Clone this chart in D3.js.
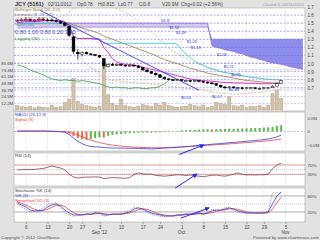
<!DOCTYPE html>
<html>
<head>
<meta charset="utf-8">
<script src="https://cdn.jsdelivr.net/npm/d3@7"></script>
<style>
body { margin: 0; background: #e2e2e2; }
svg { display: block; font-family: "Liberation Sans", Arial, sans-serif; }
</style>
</head>
<body>
<main></main>
<script>
/* daily data, 2 Aug 2012 .. 2 Nov 2012 (62 trading days) */
let opens = [1.52,1.53,1.54,1.55,1.53,1.54,1.55,1.54,1.54,1.53,1.52,1.50,1.46,1.33,1.14,1.11,1.14,1.12,1.11,1.10,
    1.06,0.96,0.99,0.98,0.99,0.98,0.97,0.98,0.97,0.95,0.92,0.90,0.88,0.86,0.83,0.81,0.80,0.79,0.80,0.79,
    0.79,0.78,0.79,0.78,0.77,0.76,0.75,0.73,0.71,0.70,0.71,0.70,0.70,0.69,0.70,0.70,0.69,0.69,0.70,0.70,0.72,0.75]
let highs = [1.55,1.56,1.57,1.56,1.55,1.57,1.57,1.56,1.56,1.55,1.53,1.51,1.47,1.34,1.18,1.15,1.15,1.13,1.12,1.11,
    1.07,1.00,1.01,1.00,1.00,0.99,0.99,0.99,0.98,0.96,0.93,0.91,0.89,0.87,0.84,0.82,0.81,0.81,0.81,0.80,
    0.80,0.80,0.80,0.79,0.78,0.77,0.76,0.74,0.72,0.72,0.72,0.71,0.71,0.71,0.71,0.71,0.70,0.71,0.71,0.73,0.76,0.80]
let lows = [1.51,1.52,1.53,1.52,1.51,1.53,1.53,1.52,1.52,1.51,1.49,1.46,1.33,1.12,1.05,1.09,1.11,1.10,1.09,1.07,
    0.93,0.95,0.97,0.97,0.97,0.96,0.96,0.96,0.94,0.91,0.89,0.87,0.85,0.82,0.80,0.79,0.78,0.78,0.78,0.78,
    0.77,0.77,0.77,0.76,0.75,0.74,0.72,0.70,0.69,0.69,0.69,0.69,0.68,0.68,0.69,0.68,0.68,0.68,0.69,0.70,0.72,0.745]
let closes = [1.53,1.54,1.55,1.53,1.54,1.55,1.54,1.53,1.53,1.52,1.50,1.47,1.35,1.15,1.12,1.14,1.12,1.11,1.10,1.08,
    0.97,0.99,0.98,0.99,0.98,0.97,0.98,0.97,0.95,0.92,0.90,0.88,0.86,0.83,0.81,0.80,0.79,0.80,0.79,0.79,
    0.78,0.79,0.78,0.77,0.76,0.75,0.73,0.71,0.70,0.71,0.70,0.70,0.69,0.70,0.70,0.69,0.69,0.70,0.70,0.72,0.75,0.79]
let volumes = [8,6,5,7,4,6,5,4,9,5,6,14,20,58,16,10,8,6,5,7,
    86,28,12,9,20,8,6,5,7,10,8,6,12,9,14,8,6,5,6,7,
    10,8,6,9,5,7,14,12,10,24,8,6,9,5,7,6,8,5,9,30,36,21]

/* overlays */
let bbMid = [1.53,1.53,1.53,1.53,1.53,1.53,1.53,1.53,1.53,1.53,1.52,1.51,1.50,1.48,1.46,1.44,1.42,1.41,1.39,1.37,
    1.34,1.32,1.30,1.28,1.26,1.24,1.22,1.20,1.18,1.16,1.14,1.12,1.10,1.07,1.05,1.03,1.01,1.00,0.98,0.96,
    0.94,0.93,0.91,0.90,0.88,0.87,0.86,0.85,0.84,0.83,0.82,0.81,0.80,0.79,0.785,0.78,0.775,0.77,0.765,0.76,0.76,0.76]
let bbUpper = [1.57,1.57,1.57,1.57,1.57,1.57,1.57,1.57,1.57,1.57,1.58,1.60,1.64,1.68,1.70,1.71,1.72,1.72,1.72,1.72,
    1.72,1.71,1.70,1.68,1.66,1.63,1.60,1.57,1.53,1.49,1.44,1.39,1.34,1.29,1.24,1.19,1.15,1.12,1.09,1.06,
    1.03,1.01,0.99,0.97,0.95,0.93,0.91,0.90,0.89,0.88,0.87,0.86,0.85,0.84,0.83,0.82,0.815,0.81,0.805,0.80,0.80,0.80]
let bbLower = [1.49,1.49,1.49,1.49,1.49,1.49,1.49,1.49,1.49,1.49,1.47,1.44,1.40,1.25,1.12,1.05,1.00,0.95,0.92,0.89,
    0.82,0.80,0.79,0.785,0.78,0.775,0.77,0.765,0.76,0.755,0.75,0.745,0.74,0.735,0.73,0.72,0.715,0.71,0.70,0.695,
    0.69,0.68,0.675,0.67,0.66,0.65,0.64,0.635,0.63,0.625,0.62,0.62,0.625,0.63,0.635,0.64,0.645,0.65,0.66,0.665,0.67,0.68]
let conversion = [1.51,1.51,1.52,1.52,1.52,1.52,1.53,1.53,1.53,1.53,1.53,1.52,1.45,1.34,1.31,1.31,1.31,1.31,1.30,1.30,
    1.20,1.14,1.06,1.02,1.00,0.99,0.99,0.98,0.97,0.955,0.94,0.93,0.915,0.905,0.89,0.875,0.865,0.85,0.835,0.82,
    0.81,0.80,0.795,0.79,0.785,0.78,0.775,0.77,0.765,0.765,0.76,0.76,0.76,0.755,0.755,0.755,0.75,0.75,0.75,0.75,0.755,0.76]
let base = [1.50,1.50,1.50,1.50,1.50,1.50,1.50,1.50,1.50,1.50,1.50,1.50,1.49,1.34,1.31,1.31,1.31,1.31,1.31,1.31,
    1.25,1.25,1.25,1.25,1.25,1.25,1.25,1.25,1.25,1.25,1.25,1.25,1.25,1.25,1.25,1.25,1.25,1.24,1.17,1.12,
    1.07,1.03,1.00,0.98,0.95,0.935,0.92,0.90,0.89,0.88,0.87,0.86,0.85,0.84,0.83,0.825,0.82,0.81,0.805,0.80,0.80,0.795]
/* cloud runs 26 days past the last bar, to the edge of the plot */
let leadA = [1.50,1.50,1.50,1.50,1.50,1.50,1.50,1.50,1.50,1.50,1.50,1.50,1.50,1.50,1.50,1.50,1.50,1.50,1.50,1.50,
    1.50,1.50,1.50,1.50,1.50,1.50,1.50,1.50,1.50,1.50,1.50,1.50,1.50,1.50,1.50,1.50,1.50,1.50,1.50,1.50,
    1.50,1.50,1.50,1.50,1.50,1.22,1.20,1.19,1.17,1.16,1.15,1.13,1.12,1.10,1.08,1.07,1.05,1.04,1.02,1.01,
    1.00,0.99,0.98,0.96,0.95,0.94,0.93]
let leadB = [1.44,1.44,1.44,1.44,1.44,1.44,1.45,1.45,1.45,1.45,1.45,1.45,1.45,1.45,1.45,1.45,1.45,1.45,1.45,1.45,
    1.45,1.45,1.45,1.45,1.45,1.45,1.45,1.45,1.45,1.45,1.45,1.45,1.45,1.45,1.45,1.45,1.45,1.45,1.45,1.45,
    1.45,1.45,1.45,1.45,1.45,1.30,1.30,1.30,1.30,1.30,1.30,1.30,1.30,1.30,1.30,1.30,1.30,1.30,1.30,1.30,
    1.30,1.30,1.30,1.30,1.30,1.30,1.30]
let trendLine = [{ i: 5.2, p: 1.66 }, { i: 42, p: 0.67 }]
let priceNotes = [
    { i: 33.3, p: 1.51, t: "61.8" }, { i: 35.1, p: 1.43, t: "$1.55" }, { i: 36.7, p: 1.37, t: "$1.39" },
    { i: 39.2, p: 1.25, t: "$1.26" }, { i: 40.1, p: 1.18, t: "$1.18" }, { i: 46.1, p: 1.09, t: "$1.09" },
    { i: 47.7, p: 0.94, t: "$1.21" }, { i: 49.4, p: 0.85, t: "$0.85" }, { i: 48.9, p: 0.66, t: "$0.66" },
    { i: 45, p: 0.57, t: "$0.57" }, { i: 37.9, p: 0.56, t: "$0.56" }
]

/* MACD */
let macd = [0.003,0.003,0.004,0.003,0.002,0.003,0.003,0.002,0.001,0.0,-0.002,-0.006,-0.02,-0.045,-0.068,-0.085,-0.097,-0.104,-0.107,-0.108,
    -0.112,-0.114,-0.115,-0.115,-0.116,-0.116,-0.117,-0.117,-0.118,-0.119,-0.12,-0.121,-0.12,-0.118,-0.116,-0.114,-0.112,-0.11,-0.108,-0.105,
    -0.103,-0.1,-0.097,-0.094,-0.091,-0.089,-0.086,-0.084,-0.081,-0.078,-0.076,-0.073,-0.071,-0.068,-0.065,-0.063,-0.06,-0.056,-0.052,-0.046,-0.037,-0.026]
let signal = [0.002,0.002,0.003,0.003,0.003,0.003,0.003,0.002,0.002,0.001,0.0,-0.002,-0.006,-0.014,-0.025,-0.037,-0.049,-0.06,-0.069,-0.077,
    -0.084,-0.09,-0.095,-0.099,-0.102,-0.105,-0.107,-0.109,-0.11,-0.111,-0.112,-0.113,-0.113,-0.113,-0.112,-0.111,-0.11,-0.109,-0.107,-0.106,
    -0.104,-0.102,-0.1,-0.098,-0.096,-0.094,-0.092,-0.09,-0.088,-0.086,-0.084,-0.082,-0.079,-0.077,-0.075,-0.072,-0.07,-0.067,-0.064,-0.061,-0.057,-0.052]
let hist = [0.001,0.001,0.001,0,-0.001,0,0,0,-0.001,-0.001,-0.002,-0.004,-0.014,-0.031,-0.045,-0.055,-0.058,-0.052,-0.045,-0.04,
    -0.042,-0.03,-0.024,-0.02,-0.017,-0.014,-0.012,-0.01,-0.009,-0.009,-0.008,-0.008,-0.007,-0.005,-0.004,-0.003,-0.002,0.004,0.008,0.01,
    0.011,0.012,0.014,0.015,0.016,0.014,0.016,0.017,0.018,0.019,0.019,0.02,0.021,0.022,0.023,0.024,0.025,0.027,0.029,0.033,0.038,0.044]
let macdArrow = [{ i: 37.4, v: -0.16 }, { i: 43.1, v: -0.094 }]

/* RSI */
let rsi = [49,50,51,50,51,53,55,60,66,61,57,49,30,19,14,17,18,18,19,18,
    12,14,16,15,14,13,16,30,36,32,30,31,25,24,22,24,26,28,27,25,
    27,24,22,20,23,26,27,24,22,26,30,36,30,27,28,27,28,28,31,55,70,78]
let rsiArrow = [{ i: 36.5, v: -29 }, { i: 41.5, v: 31 }]

/* Stochastic */
let stochRaw = [48,38,30,20,22,28,35,48,52,55,35,18,8,4,6,10,14,12,18,14,
    4,8,14,12,12,20,26,38,36,28,18,12,8,4,2,4,6,12,8,14,
    10,14,18,10,20,30,28,26,36,38,26,20,16,14,18,16,14,18,24,92,92,90]
let stochK = [54,46,39,27,24,24,27,39,46,50,42,27,16,9,9,9,12,12,16,16,
    9,9,12,12,12,16,20,31,35,31,24,16,12,9,5,5,5,9,9,12,
    12,12,16,12,16,24,27,27,31,35,31,24,20,16,16,16,16,16,20,50,80,95]
let stochD = [58,52,46,37,30,25,25,30,37,45,46,40,28,17,11,9,10,11,13,15,
    14,11,10,11,12,13,16,22,29,32,30,24,17,12,9,6,5,6,8,10,
    11,12,13,13,15,17,22,26,28,31,32,30,25,20,17,16,16,16,17,30,55,75]
let stochArrow = [{ i: 37.8, v: -3 }, { i: 44.3, v: 35 }]

/* axis ticks */
let tickIdx = [2, 7, 12, 15, 19, 24, 29, 33, 38, 43, 48, 53, 57, 62]
let tickLabels = ["6", "13", "20", "27", "3", "10", "17", "24", "1", "8", "15", "22", "29", "5"]
let monthLabels = [{ i: 19, t: "Sep '12" }, { i: 38, t: "Oct" }, { i: 62, t: "Nov" }]
let priceTicks = [0.7, 0.8, 0.9, 1.0, 1.1, 1.2, 1.3, 1.4, 1.5, 1.6, 1.7]
let volumeTicks = [12.2, 24.5, 36.7, 48.9, 61.1, 73.4, 85.6]

const svgWidth = 320
const svgHeight = 240
const plotLeft = 14
const plotRight = 305

let svg = d3.select("main")
    .append("svg")
    .attr("width", svgWidth)
    .attr("height", svgHeight)
    .style("background-color", "#e2e2e2")

let days = d3.range(closes.length)
let cloudDays = d3.range(leadA.length)

/* scales */
let x = d3.scaleLinear().domain([-0.75, 66.5]).range([plotLeft, plotRight])
let yPrice = d3.scaleLinear().domain([0.4, 1.7]).range([112, 7])
let yVol = d3.scaleLinear().domain([0, 85.6]).range([110, 63])
let yMacd = d3.scaleLinear().domain([-0.094, 0.094]).range([145, 118])
let yRsi = d3.scaleLinear().domain([0, 100]).range([181.3, 158])
let yStoch = d3.scaleLinear().domain([0, 100]).range([217.3, 190.6])

let panels = [
    { id: "pMain", top: 8, bottom: 111 },
    { id: "pMacd", top: 112, bottom: 151 },
    { id: "pRsi", top: 153, bottom: 186 },
    { id: "pStoch", top: 188, bottom: 222 }
]

let defs = svg.append("defs")
panels.forEach(p => {
    defs.append("clipPath").attr("id", p.id + "clip")
        .append("rect")
        .attr("x", plotLeft).attr("y", p.top)
        .attr("width", plotRight - plotLeft).attr("height", p.bottom - p.top)
})
defs.append("marker")
    .attr("id", "arrow")
    .attr("viewBox", "0 0 10 10")
    .attr("refX", 8).attr("refY", 5)
    .attr("markerWidth", 5).attr("markerHeight", 5)
    .attr("orient", "auto")
    .append("path")
    .attr("d", "M0,0 L10,5 L0,10 z")
    .attr("fill", "#2a2ae0")

/* panel backgrounds + weekly grid */
panels.forEach(p => {
    svg.append("rect")
        .attr("x", plotLeft).attr("y", p.top)
        .attr("width", plotRight - plotLeft).attr("height", p.bottom - p.top)
        .attr("fill", "#fff")
        .attr("stroke", "#a8a8a8")
        .attr("stroke-width", 0.6)
    svg.append("g").selectAll("line")
        .data(tickIdx.filter(i => x(i) < plotRight))
        .enter()
        .append("line")
        .attr("x1", i => x(i)).attr("x2", i => x(i))
        .attr("y1", p.top).attr("y2", p.bottom)
        .attr("stroke", "#e6e6e6")
        .attr("stroke-width", 0.6)
})

let main = svg.append("g").attr("clip-path", "url(#pMainclip)")

/* ichimoku cloud */
let cloudUp = d3.area()
    .defined(i => i <= 44)
    .x(i => x(i))
    .y0(i => yPrice(leadB[i]))
    .y1(i => yPrice(leadA[i]))
let cloudDown = d3.area()
    .defined(i => i >= 44)
    .x(i => x(i))
    .y0(i => yPrice(leadA[i]))
    .y1(i => yPrice(leadB[i]))

main.append("path").datum(cloudDays).attr("d", cloudUp).attr("fill", "#d6c8ee")
main.append("path").datum(cloudDays).attr("d", cloudDown).attr("fill", "#8c8cec")
main.append("path").datum(cloudDays)
    .attr("d", d3.line().x(i => x(i)).y(i => yPrice(leadA[i])))
    .attr("fill", "none").attr("stroke", "#9a6ad0").attr("stroke-width", 0.8)
main.append("path").datum(cloudDays)
    .attr("d", d3.line().x(i => x(i)).y(i => yPrice(leadB[i])))
    .attr("fill", "none").attr("stroke", "#7a7ae0").attr("stroke-width", 0.6)

/* dashed grid */
main.append("g").selectAll("line")
    .data(priceTicks)
    .enter()
    .append("line")
    .attr("x1", plotLeft).attr("x2", plotRight)
    .attr("y1", d => yPrice(d)).attr("y2", d => yPrice(d))
    .attr("stroke", "#6c6ce6")
    .attr("stroke-width", 0.6)
    .attr("stroke-dasharray", "2,1.5")
main.append("g").selectAll("line")
    .data(volumeTicks)
    .enter()
    .append("line")
    .attr("x1", plotLeft).attr("x2", plotRight)
    .attr("y1", d => yVol(d)).attr("y2", d => yVol(d))
    .attr("stroke", "#8a8ae8")
    .attr("stroke-width", 0.5)
    .attr("stroke-dasharray", "2,1.5")

/* volume */
main.append("g").selectAll("rect")
    .data(days)
    .enter()
    .append("rect")
    .attr("x", i => x(i) - 1.6)
    .attr("y", i => yVol(volumes[i]))
    .attr("width", 3.2)
    .attr("height", i => yVol(0) - yVol(volumes[i]))
    .attr("fill", "#d2c2a8")
    .attr("stroke", "#a8967a")
    .attr("stroke-width", 0.4)

/* lagging span = close moved back 26 days */
main.append("path")
    .datum(days.filter(i => i + 26 < closes.length))
    .attr("d", d3.line().x(i => x(i)).y(i => yPrice(closes[i + 26])))
    .attr("fill", "none").attr("stroke", "#3c9a3c").attr("stroke-width", 0.8)

function overlay(values, color, width, dash) {
    main.append("path")
        .datum(days)
        .attr("d", d3.line().x(i => x(i)).y(i => yPrice(values[i])))
        .attr("fill", "none")
        .attr("stroke", color)
        .attr("stroke-width", width)
        .attr("stroke-dasharray", dash)
}

overlay(bbUpper, "#c8a868", 0.7, "2,1.5")
overlay(bbLower, "#c8a868", 0.7, "2,1.5")
overlay(bbMid, "#9c7a3c", 0.8, null)
overlay(base, "#28c8d8", 0.8, null)
overlay(conversion, "#e020c8", 0.9, null)

main.append("path")
    .datum(trendLine)
    .attr("d", d3.line().x(d => x(d.i)).y(d => yPrice(d.p)))
    .attr("stroke", "#3a3ae6").attr("stroke-width", 0.9)

/* candles */
main.append("g").selectAll("line")
    .data(days)
    .enter()
    .append("line")
    .attr("x1", i => x(i)).attr("x2", i => x(i))
    .attr("y1", i => yPrice(highs[i])).attr("y2", i => yPrice(lows[i]))
    .attr("stroke", "#000").attr("stroke-width", 0.7)
main.append("g").selectAll("rect")
    .data(days)
    .enter()
    .append("rect")
    .attr("x", i => x(i) - 1.4)
    .attr("y", i => yPrice(Math.max(opens[i], closes[i])))
    .attr("width", 2.8)
    .attr("height", i => Math.max(0.9, Math.abs(yPrice(opens[i]) - yPrice(closes[i]))))
    .attr("fill", i => closes[i] >= opens[i] ? "#fff" : "#000")
    .attr("stroke", "#000").attr("stroke-width", 0.5)

main.append("g").selectAll("text")
    .data(priceNotes)
    .enter()
    .append("text")
    .attr("x", d => x(d.i)).attr("y", d => yPrice(d.p))
    .attr("font-size", 4)
    .attr("fill", "#3434c8")
    .text(d => d.t)

/* main legend */
let legend = [
    { t: "Bollinger Band (20, 2.0)", c: "#9c7a3c", y: 11, s: 4.3 },
    { t: "Ichimoku (9, 26, 52)", c: "#777", y: 16, s: 4.3 },
    { t: "Conversion (9)", c: "#e020c8", y: 21, s: 4.3 },
    { t: "Base (26)", c: "#1a9ab8", y: 25.5, s: 4.3 },
    { t: "0.80 1.00 0.80 0.20 3.30", c: "#4a4ac8", y: 34, s: 5.6 },
    { t: "Lagging (26)", c: "#2c8a2c", y: 40, s: 4.3 }
]
svg.append("g").selectAll("text")
    .data(legend)
    .enter()
    .append("text")
    .attr("x", 15).attr("y", d => d.y)
    .attr("font-size", d => d.s)
    .attr("fill", d => d.c)
    .text(d => d.t)

/* MACD */
let pm = svg.append("g").attr("clip-path", "url(#pMacdclip)")
pm.append("line")
    .attr("x1", plotLeft).attr("x2", plotRight)
    .attr("y1", yMacd(0)).attr("y2", yMacd(0))
    .attr("stroke", "#999").attr("stroke-width", 0.6).attr("stroke-dasharray", "2,1.5")
pm.append("g").selectAll("rect")
    .data(days)
    .enter()
    .append("rect")
    .attr("x", i => x(i) - 1)
    .attr("y", i => yMacd(Math.max(0, hist[i])))
    .attr("width", 2)
    .attr("height", i => Math.abs(yMacd(hist[i]) - yMacd(0)))
    .attr("fill", i => (i > 0 && hist[i] < hist[i - 1]) ? "#f06a44" : "#58b848")
pm.append("path").datum(days)
    .attr("d", d3.line().x(i => x(i)).y(i => yMacd(signal[i])))
    .attr("fill", "none").attr("stroke", "#e84040").attr("stroke-width", 0.8)
pm.append("path").datum(days)
    .attr("d", d3.line().x(i => x(i)).y(i => yMacd(macd[i])))
    .attr("fill", "none").attr("stroke", "#3a3ae6").attr("stroke-width", 0.8)

/* RSI */
let pr = svg.append("g").attr("clip-path", "url(#pRsiclip)")
;[70, 30].forEach(v => {
    pr.append("line")
        .attr("x1", plotLeft).attr("x2", plotRight)
        .attr("y1", yRsi(v)).attr("y2", yRsi(v))
        .attr("stroke", "#c05858").attr("stroke-width", 0.6)
})
pr.append("line")
    .attr("x1", plotLeft).attr("x2", plotRight)
    .attr("y1", yRsi(50)).attr("y2", yRsi(50))
    .attr("stroke", "#999").attr("stroke-width", 0.5).attr("stroke-dasharray", "1,1")
pr.append("path").datum(days)
    .attr("d", d3.line().x(i => x(i)).y(i => yRsi(rsi[i])))
    .attr("fill", "none").attr("stroke", "#8c3a4a").attr("stroke-width", 0.8)

/* Stochastic */
let ps = svg.append("g").attr("clip-path", "url(#pStochclip)")
;[80, 20].forEach(v => {
    ps.append("line")
        .attr("x1", plotLeft).attr("x2", plotRight)
        .attr("y1", yStoch(v)).attr("y2", yStoch(v))
        .attr("stroke", "#777").attr("stroke-width", 0.6)
})
ps.append("line")
    .attr("x1", plotLeft).attr("x2", plotRight)
    .attr("y1", yStoch(50)).attr("y2", yStoch(50))
    .attr("stroke", "#999").attr("stroke-width", 0.5).attr("stroke-dasharray", "1,1")
ps.append("path").datum(days)
    .attr("d", d3.line().x(i => x(i)).y(i => yStoch(stochRaw[i])))
    .attr("fill", "none").attr("stroke", "#555").attr("stroke-width", 0.6).attr("stroke-dasharray", "1,1")
ps.append("path").datum(days)
    .attr("d", d3.line().x(i => x(i)).y(i => yStoch(stochD[i])))
    .attr("fill", "none").attr("stroke", "#e84040").attr("stroke-width", 0.8)
ps.append("path").datum(days)
    .attr("d", d3.line().x(i => x(i)).y(i => yStoch(stochK[i])))
    .attr("fill", "none").attr("stroke", "#3a3ae6").attr("stroke-width", 0.8)

/* drawn arrows */
function arrow(points, yScale) {
    svg.append("path")
        .datum(points)
        .attr("d", d3.line().x(d => x(d.i)).y(d => yScale(d.v)))
        .attr("stroke", "#2a2ae0")
        .attr("stroke-width", 1)
        .attr("marker-end", "url(#arrow)")
}
arrow(macdArrow, yMacd)
arrow(rsiArrow, yRsi)
arrow(stochArrow, yStoch)

/* panel titles */
let panelText = [
    { t: "MACD (26,12,9)", c: "#3a3ae6", y: 116 },
    { t: "Signal (9)", c: "#e84040", y: 121 },
    { t: "RSI (14)", c: "#333", y: 157 },
    { t: "Stochastic %K (14)", c: "#333", y: 192 },
    { t: "%K (3)", c: "#3a3ae6", y: 197 },
    { t: "Smoothed %D (3)", c: "#e84040", y: 202 }
]
svg.append("g").selectAll("text")
    .data(panelText)
    .enter()
    .append("text")
    .attr("x", 15).attr("y", d => d.y)
    .attr("font-size", 4.3)
    .attr("fill", d => d.c)
    .text(d => d.t)

/* right axes */
function rightAxis(scale, values, fmt, size) {
    let g = svg.append("g")
        .attr("transform", `translate(${plotRight}, 0)`)
        .call(d3.axisRight(scale).tickValues(values).tickSize(0).tickPadding(2.5).tickFormat(fmt))
    g.select("path").remove()
    g.selectAll("text")
        .attr("font-size", size)
        .attr("font-family", "Liberation Sans, Arial, sans-serif")
        .attr("fill", "#444")
}
rightAxis(yPrice, priceTicks, d3.format(".1f"), 4.6)
rightAxis(yMacd, [0.094, 0, -0.094], d => d === 0 ? "0" : d3.format(".3f")(d), 3.9)
rightAxis(yRsi, [70, 30], d => d + "%", 4.4)
rightAxis(yStoch, [80, 20], d => d + "%", 4.4)

/* volume axis on the left */
let va = svg.append("g")
    .attr("transform", `translate(${plotLeft}, 0)`)
    .call(d3.axisLeft(yVol).tickValues(volumeTicks).tickSize(0).tickPadding(1).tickFormat(d => d + "M"))
va.select("path").remove()
va.selectAll("text")
    .attr("font-size", 4.2)
    .attr("font-family", "Liberation Sans, Arial, sans-serif")
    .attr("fill", "#444")

/* date axis */
let xa = svg.append("g")
    .attr("transform", `translate(0, 222)`)
    .call(d3.axisBottom(x).tickValues(tickIdx).tickSize(2).tickPadding(1.5)
        .tickFormat((d, k) => tickLabels[k]))
xa.select("path").remove()
xa.selectAll("line").attr("stroke", "#666").attr("stroke-width", 0.5)
xa.selectAll("text")
    .attr("font-size", 4.6)
    .attr("font-family", "Liberation Sans, Arial, sans-serif")
    .attr("fill", "#444")

svg.append("g").selectAll("text")
    .data(monthLabels)
    .enter()
    .append("text")
    .attr("x", d => x(d.i)).attr("y", 234)
    .attr("text-anchor", "middle")
    .attr("font-size", 4.6)
    .attr("fill", "#444")
    .text(d => d.t)

/* header */
let header = [
    { t: "JCY (5161)", x: 15, w: "bold", c: "#333" },
    { t: "02/11/2012", x: 48, c: "#444" },
    { t: "Op0.78", x: 77, c: "#444" },
    { t: "Hi0.815", x: 98, c: "#444" },
    { t: "Lo0.77", x: 118, c: "#444" },
    { t: "Cl0.8", x: 139, c: "#444" },
    { t: "V20.9M", x: 162, c: "#444" },
    { t: "Chg+0.02 (+2.56%)", x: 181, c: "#444" }
]
svg.append("g").selectAll("text")
    .data(header)
    .enter()
    .append("text")
    .attr("x", d => d.x).attr("y", 6)
    .attr("font-size", d => d.w ? 5.6 : 4.8)
    .attr("font-weight", d => d.w || "normal")
    .attr("fill", d => d.c)
    .text(d => d.t)

svg.append("text")
    .attr("x", 304).attr("y", 6)
    .attr("text-anchor", "end")
    .attr("font-size", 4.4)
    .attr("fill", "#999")
    .text("Closed 0, 02/11/2012")

svg.append("text")
    .attr("x", 1).attr("y", 238.5)
    .attr("font-size", 4.4)
    .attr("fill", "#555")
    .text("Copyright © 2012 ChartNexus")

svg.append("text")
    .attr("x", 319).attr("y", 238.5)
    .attr("text-anchor", "end")
    .attr("font-size", 4.4)
    .attr("fill", "#555")
    .text("Powered by www.chartnexus.com")
</script>
</body>
</html>
